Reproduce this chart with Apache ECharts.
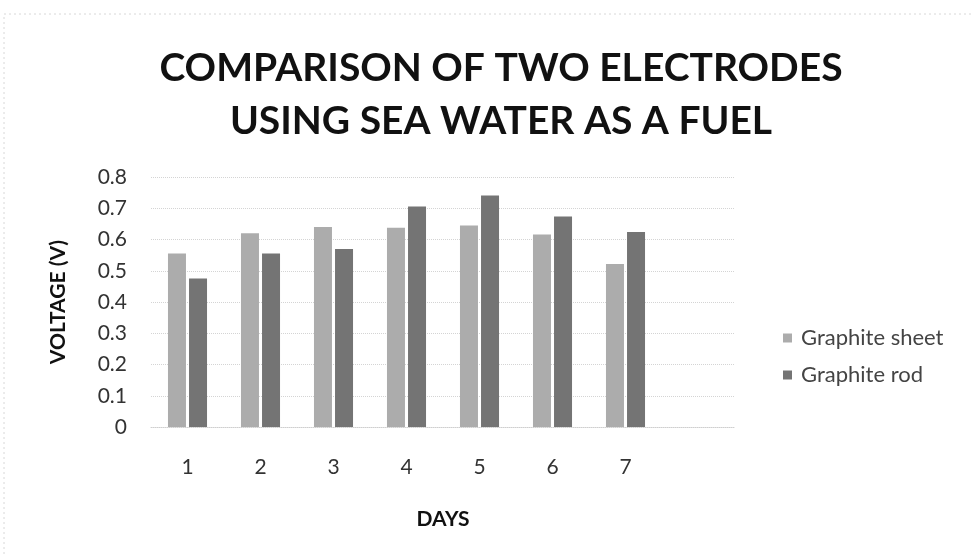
<!DOCTYPE html>
<html>
<head>
<meta charset="utf-8">
<script src="https://cdn.jsdelivr.net/npm/echarts@6/dist/echarts.min.js"></script>
<style>
  html, body { margin: 0; padding: 0; background: #fff; }
  #chart { width: 973px; height: 555px; }
</style>
</head>
<body>
<div id="chart"></div>
<script>
// ---- data ----
var days = ['1', '2', '3', '4', '5', '6', '7', ''];
var graphiteSheet = [0.555, 0.62, 0.64, 0.638, 0.645, 0.616, 0.522, null];
var graphiteRod = [0.475, 0.555, 0.57, 0.706, 0.741, 0.674, 0.624, null];
var yTicks = [0, 0.1, 0.2, 0.3, 0.4, 0.5, 0.6, 0.7, 0.8];

var chart = echarts.init(document.getElementById('chart'));
var option = {
  backgroundColor: '#fff',
  animation: false,
  title: {
    text: 'COMPARISON OF TWO ELECTRODES\nUSING SEA WATER AS A FUEL',
    left: 496,
    top: 37,
    textAlign: 'center',
    textStyle: {
      fontFamily: 'Lato',
      fontWeight: 'bold',
      fontSize: 39,
      lineHeight: 53,
      color: '#111'
    }
  },
  graphic: [{
    type: 'rect',
    shape: { x: 4, y: 14, width: 990, height: 560 },
    style: { fill: 'none', stroke: '#d8d8d8', lineWidth: 1, lineDash: [2, 3] },
    silent: true
  }],
  legend: {
    orient: 'vertical',
    left: 778,
    top: 322,
    itemWidth: 9,
    itemHeight: 9,
    itemGap: 15,
    icon: 'rect',
    textStyle: {
      fontFamily: 'Lato',
      fontSize: 22,
      color: '#444',
      padding: [0, 0, 0, 4]
    },
    data: ['Graphite sheet', 'Graphite rod']
  },
  grid: {
    left: 151,
    right: 238,
    top: 177,
    bottom: 128,
    containLabel: false
  },
  xAxis: {
    type: 'category',
    data: days,
    name: 'DAYS',
    nameLocation: 'middle',
    nameGap: 82,
    nameTextStyle: {
      fontFamily: 'Lato',
      fontWeight: 'bold',
      fontSize: 21,
      color: '#111'
    },
    axisLine: { show: true, lineStyle: { color: '#cfcfcf', type: 'dotted' } },
    axisTick: { show: false },
    axisLabel: {
      margin: 30,
      fontFamily: 'Lato',
      fontSize: 21,
      color: '#333'
    }
  },
  yAxis: {
    type: 'value',
    min: 0,
    max: 0.8,
    interval: 0.1,
    name: 'VOLTAGE (V)',
    nameLocation: 'middle',
    nameGap: 82,
    nameTextStyle: {
      fontFamily: 'Lato',
      fontWeight: 'bold',
      fontSize: 21,
      color: '#111'
    },
    axisLine: { show: false },
    axisTick: { show: false },
    axisLabel: {
      margin: 24,
      fontFamily: 'Lato',
      fontSize: 21,
      color: '#333',
      formatter: function (v) {
        var t = yTicks.find(function (k) { return Math.abs(k - v) < 1e-9; });
        if (t === undefined) return '';
        return t === 0 ? '0' : t.toFixed(1);
      }
    },
    splitLine: { show: true, lineStyle: { color: '#d4d4d4', type: 'dotted', width: 1 } }
  },
  series: [
    {
      name: 'Graphite sheet',
      type: 'bar',
      data: graphiteSheet,
      barWidth: 18,
      barGap: '17%',
      itemStyle: { color: '#acacac' }
    },
    {
      name: 'Graphite rod',
      type: 'bar',
      data: graphiteRod,
      barWidth: 18,
      itemStyle: { color: '#747474' }
    }
  ]
};
chart.setOption(option);
</script>
</body>
</html>
